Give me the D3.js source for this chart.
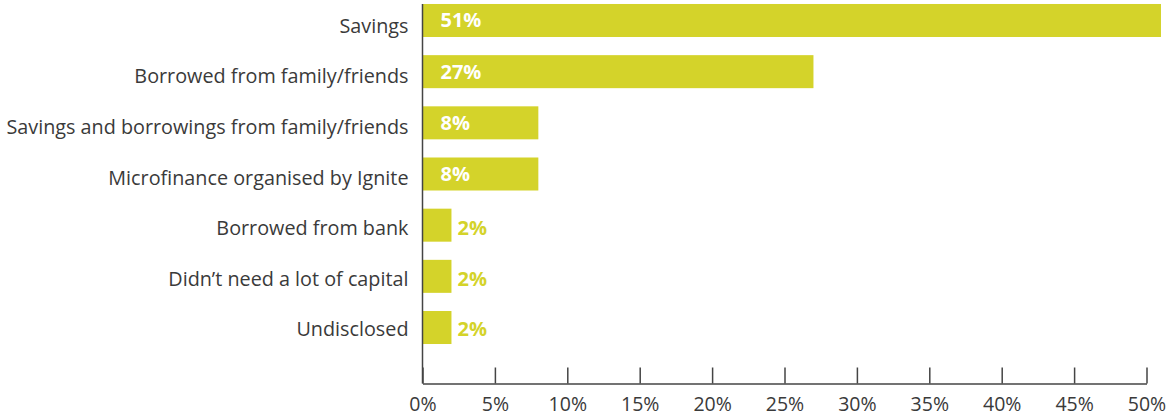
<!DOCTYPE html>
<html>
<head>
<meta charset="utf-8">
<script src="https://cdn.jsdelivr.net/npm/d3@7"></script>
<style>
  html, body { margin: 0; padding: 0; background: #fff; }
  svg { display: block; }
  text { font-family: "Open Sans", "Liberation Sans", sans-serif; }
</style>
</head>
<body>
<svg id="chart" width="1174" height="416"></svg>
<script>
// Source of start-up capital, share of respondents
const categories = [
  "Savings",
  "Borrowed from family/friends",
  "Savings and borrowings from family/friends",
  "Microfinance organised by Ignite",
  "Borrowed from bank",
  "Didn\u2019t need a lot of capital",
  "Undisclosed"
];
const shares = [51, 27, 8, 8, 2, 2, 2];
const tickValues = [0, 5, 10, 15, 20, 25, 30, 35, 40, 45, 50];

const barColor = "#d4d32a";
const textColor = "#3a3a3a";
const axisColor = "#444";

const svg = d3.select("#chart");
const originX = 422.5;
const axisY = 383.5;

const x = d3.scaleLinear().domain([0, 50]).range([originX, 1146.5]);

// bar rows
const y = d3.scaleBand()
  .domain(categories)
  .range([-5.1, 353.1])
  .paddingInner(0.355)
  .paddingOuter(0.1775);

// text rows (category names and outside value labels sit on a slightly tighter pitch)
const yText = d3.scaleBand()
  .domain(categories)
  .range([0.5, 354.8]);
const textMid = c => yText(c) + yText.bandwidth() / 2;

const data = categories.map((c, i) => ({ category: c, value: shares[i] }));

// bars
svg.append("g").selectAll("rect")
  .data(data)
  .join("rect")
  .attr("x", x(0))
  .attr("y", d => y(d.category))
  .attr("width", d => x(d.value) - x(0))
  .attr("height", y.bandwidth())
  .attr("fill", barColor);

// value labels: inside the bar when there is room, otherwise just past its end
svg.append("g").selectAll("text")
  .data(data)
  .join("text")
  .attr("x", d => d.value >= 5 ? x(0) + 18 : x(d.value) + 6)
  .attr("y", d => d.value >= 5 ? y(d.category) + y.bandwidth() / 2 : textMid(d.category))
  .attr("dy", "0.35em")
  .attr("font-size", 20)
  .attr("font-weight", 700)
  .attr("fill", d => d.value >= 5 ? "#fff" : barColor)
  .text(d => d.value + "%");

// category labels
svg.append("g").selectAll("text")
  .data(data)
  .join("text")
  .attr("x", originX - 14)
  .attr("y", d => textMid(d.category))
  .attr("dy", "0.35em")
  .attr("text-anchor", "end")
  .attr("font-size", 19.8)
  .attr("fill", textColor)
  .text(d => d.category);

// vertical axis line
svg.append("line")
  .attr("x1", originX).attr("x2", originX)
  .attr("y1", 4).attr("y2", axisY)
  .attr("stroke", axisColor)
  .attr("stroke-width", 1.5);

// horizontal axis with upward ticks
const xAxis = d3.axisBottom(x)
  .tickValues(tickValues)
  .tickSize(-16)
  .tickSizeOuter(0)
  .tickPadding(14)
  .tickFormat(d => d + "%");

const gx = svg.append("g")
  .attr("transform", `translate(0,${axisY})`)
  .call(xAxis);
gx.select(".domain").attr("stroke", axisColor).attr("stroke-width", 1.5);
gx.selectAll(".tick line").attr("stroke", axisColor).attr("stroke-width", 1.5);
gx.selectAll(".tick text")
  .attr("font-size", 19.5)
  .attr("font-family", "\"Open Sans\", sans-serif")
  .attr("fill", textColor);
</script>
</body>
</html>
